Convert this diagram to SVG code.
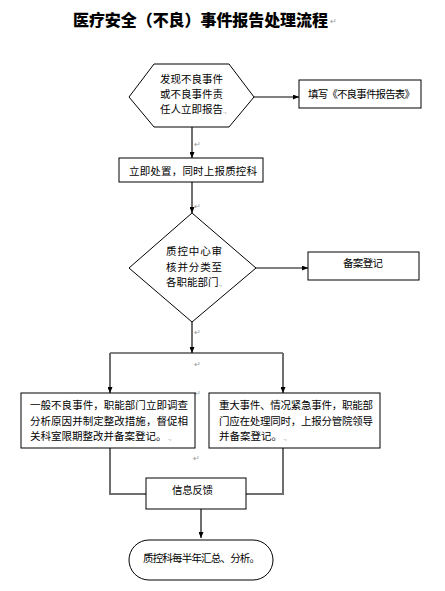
<svg xmlns="http://www.w3.org/2000/svg" width="445" height="591" viewBox="0 0 445 591">
<style>
text{font-family:"Noto Sans CJK SC","Noto Sans",sans-serif;fill:#000}
.t{font-size:10.5px}
.title{font-size:16px;font-weight:900}
.shape{fill:#fff;stroke:#000;stroke-width:1}
.g{stroke:#6e6e6e;stroke-width:2;fill:none}
.k{stroke:#000;stroke-width:1;fill:none}
.pm{font-size:8px;fill:#999}
.pm2{font-size:6px;fill:#999}
</style>
<defs>
<marker id="ah" markerUnits="userSpaceOnUse" markerWidth="6" markerHeight="5" refX="6" refY="2.5" orient="auto">
<path d="M0,0 L6,2.5 L0,5 z" fill="#000"/>
</marker>
</defs>
<rect width="445" height="591" fill="#fff"/>
<text class="title" x="73" y="26" textLength="255">医疗安全（不良）事件报告处理流程</text>
<text class="pm" x="330" y="24">↵</text>

<g id="connectors">
<line class="k" x1="254" y1="97" x2="299" y2="97" marker-end="url(#ah)"/>
<line class="g" x1="192" y1="127" x2="192" y2="158" marker-end="url(#ah)"/>
<line class="g" x1="192" y1="182" x2="192" y2="213" marker-end="url(#ah)"/>
<line class="k" x1="256" y1="268" x2="308" y2="268" marker-end="url(#ah)"/>
<line class="g" x1="192" y1="322" x2="192" y2="353" marker-end="url(#ah)"/>
<line class="k" x1="110" y1="353" x2="283" y2="353"/>
<line class="g" x1="110" y1="353" x2="110" y2="393" marker-end="url(#ah)"/>
<line class="g" x1="283" y1="353" x2="283" y2="393" marker-end="url(#ah)"/>
<polyline class="g" points="110,448 110,494 146,494"/>
<polyline class="g" points="283,448 283,494 246,494"/>
<line class="g" x1="201" y1="509" x2="201" y2="538" marker-end="url(#ah)"/>
</g>

<text class="pm" x="194" y="147">↵</text>
<text class="pm" x="194" y="209">↵</text>
<text class="pm" x="194" y="335">↵</text>
<text class="pm" x="194" y="367">↵</text>
<text class="pm" x="194" y="396">↵</text>
<text class="pm" x="193" y="461">↵</text>

<g id="n1">
<polygon class="shape" points="154,64 229,64 254,97 229,127 154,127 129,97"/>
<text class="t" x="160" y="83">发现不良事件</text>
<text class="t" x="160" y="98">或不良事件责</text>
<text class="t" x="160" y="113">任人立即报告<tspan class="pm2">.,</tspan></text>
</g>
<g id="n2">
<rect class="shape" x="299" y="80" width="122" height="28"/>
<text class="t" x="308" y="98" textLength="107">填写《不良事件报告表》</text>
</g>
<g id="n3">
<rect class="shape" x="119" y="158" width="144" height="24"/>
<text class="t" x="129" y="175" textLength="128">立即处置，同时上报质控科</text>
</g>
<g id="n4">
<polygon class="shape" points="192,213 256,268 192,322 129,268"/>
<text class="t" x="166" y="255" textLength="56">质控中心审</text>
<text class="t" x="166" y="271" textLength="56">核并分类至</text>
<text class="t" x="166" y="286" textLength="56">各职能部门<tspan class="pm2">.,</tspan></text>
</g>
<g id="n5">
<rect class="shape" x="308" y="252" width="111" height="28"/>
<text class="t" x="343" y="267" textLength="40">备案登记</text>
</g>
<g id="n6">
<rect class="shape" x="21" y="393" width="174" height="55"/>
<text class="t" x="30" y="409" textLength="158">一般不良事件，职能部门立即调查</text>
<text class="t" x="30" y="425" textLength="158">分析原因并制定整改措施，督促相</text>
<text class="t" x="30" y="440">关科室限期整改并备案登记。<tspan class="pm2"> .,</tspan></text>
</g>
<g id="n7">
<rect class="shape" x="209" y="393" width="171" height="55"/>
<text class="t" x="219" y="409" textLength="154">重大事件、情况紧急事件，职能部</text>
<text class="t" x="219" y="425" textLength="154">门应在处理同时，上报分管院领导</text>
<text class="t" x="219" y="440">并备案登记。<tspan class="pm2"> .,</tspan></text>
</g>
<g id="n8">
<rect class="shape" x="146" y="478" width="100" height="31"/>
<text class="t" x="172" y="494" textLength="41">信息反馈</text>
</g>
<g id="n9">
<rect class="shape" x="129" y="540" width="144" height="40" rx="20" ry="20"/>
<text class="t" x="143" y="562" textLength="117">质控科每半年汇总、分析。</text>
</g>
</svg>
